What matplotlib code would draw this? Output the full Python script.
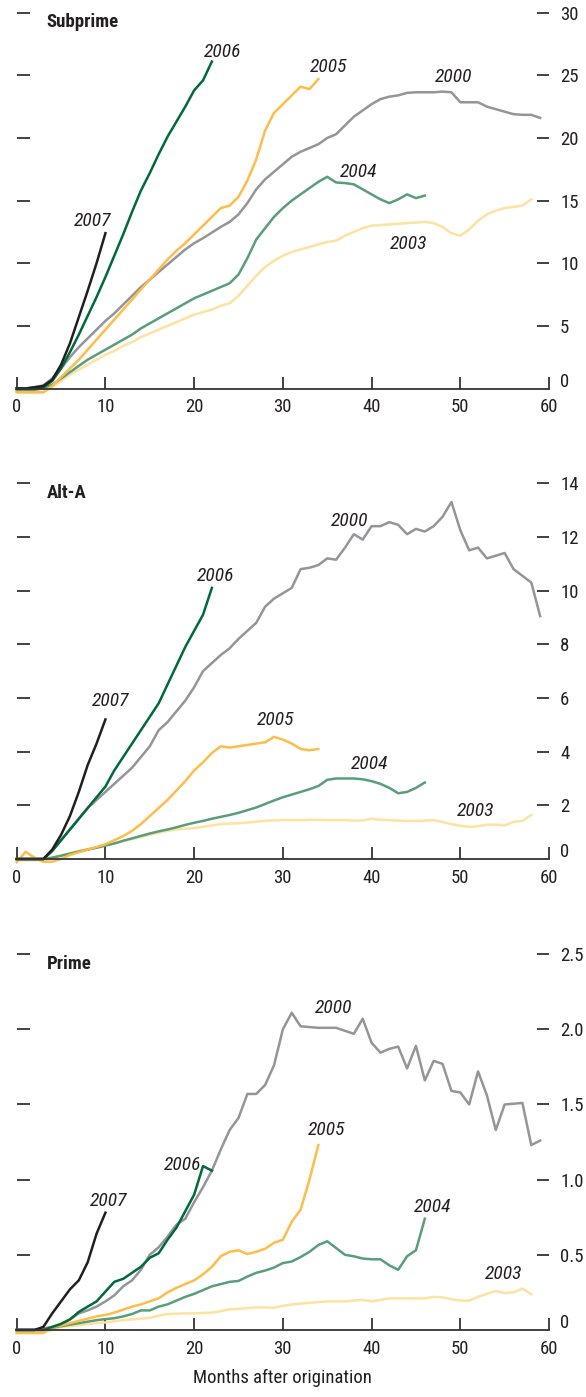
import matplotlib
matplotlib.use('Agg')
import matplotlib.pyplot as plt
from matplotlib import font_manager as fm
import numpy as np

# pick a condensed sans that is installed (chart uses a Univers-condensed look)
names = set(f.name for f in fm.fontManager.ttflist)
candidates = ['Roboto Condensed', 'Archivo Narrow', 'PT Sans Narrow', 'Fira Sans Condensed',
              'IBM Plex Sans Condensed', 'Liberation Sans Narrow', 'Barlow Semi Condensed']
found = [c for c in candidates if c in names]
plt.rcParams['font.family'] = found[:1] + ['DejaVu Sans']

# cumulative delinquency rates by months after origination, per vintage
# --- Subprime ---
sub_2007 = [0, 0, 0.1, 0.2, 0.7, 1.9, 3.6, 5.7, 7.8, 10.0, 12.4]
sub_2006 = [0, 0, 0.05, 0.1, 0.6, 1.6, 2.9, 4.3, 5.8, 7.3, 8.9, 10.6, 12.3, 14.1, 15.8,
            17.2, 18.7, 20.1, 21.3, 22.5, 23.8, 24.6, 26.1]
sub_2005 = [-0.3, -0.3, -0.3, -0.3, 0.2, 0.9, 1.6, 2.3, 3.1, 3.9, 4.7, 5.5, 6.3, 7.1, 7.9,
            8.7, 9.5, 10.3, 11.0, 11.6, 12.3, 13.0, 13.7, 14.4, 14.6, 15.3, 16.6, 18.3, 20.6,
            22.0, 22.7, 23.4, 24.1, 23.9, 24.7]
sub_2004 = [-0.1, -0.1, -0.1, 0, 0.3, 0.8, 1.3, 1.8, 2.3, 2.7, 3.1, 3.5, 3.9, 4.3, 4.8, 5.2,
            5.6, 6.0, 6.4, 6.8, 7.2, 7.5, 7.8, 8.1, 8.4, 9.1, 10.4, 11.9, 12.8, 13.7, 14.4,
            15.0, 15.5, 16.0, 16.5, 16.9, 16.45, 16.4, 16.3, 15.9, 15.5, 15.1, 14.8, 15.1,
            15.5, 15.2, 15.4]
sub_2003 = [-0.3, -0.3, -0.3, -0.3, 0.1, 0.6, 1.1, 1.5, 1.9, 2.3, 2.7, 3.0, 3.4, 3.7, 4.1,
            4.4, 4.7, 5.0, 5.3, 5.6, 5.9, 6.1, 6.3, 6.6, 6.8, 7.4, 8.2, 9.0, 9.7, 10.2, 10.6,
            10.9, 11.1, 11.3, 11.5, 11.7, 11.8, 12.2, 12.5, 12.8, 13.0, 13.05, 13.1, 13.15,
            13.2, 13.25, 13.3, 13.2, 12.9, 12.4, 12.2, 12.7, 13.4, 13.9, 14.2, 14.4, 14.5,
            14.6, 15.1]
sub_2000 = [0, 0, 0.1, 0.25, 0.8, 1.6, 2.5, 3.3, 4.0, 4.7, 5.4, 6.0, 6.7, 7.4, 8.1, 8.7,
            9.3, 9.9, 10.5, 11.1, 11.6, 12.0, 12.45, 12.9, 13.3, 13.9, 14.8, 15.9, 16.7, 17.3,
            17.9, 18.5, 18.9, 19.2, 19.5, 20.0, 20.3, 21.0, 21.7, 22.2, 22.7, 23.1, 23.3,
            23.4, 23.6, 23.65, 23.65, 23.65, 23.7, 23.65, 22.85, 22.85, 22.85, 22.5, 22.3,
            22.1, 21.9, 21.85, 21.85, 21.6]

# --- Alt-A ---
alt_2007 = [0, 0, 0, 0, 0.35, 0.9, 1.6, 2.5, 3.5, 4.3, 5.2]
alt_2006 = [0, 0, 0, 0, 0.3, 0.7, 1.1, 1.5, 1.9, 2.3, 2.7, 3.3, 3.8, 4.3, 4.8, 5.3, 5.8,
            6.5, 7.2, 7.9, 8.5, 9.1, 10.1]
alt_2005 = [-0.12, 0.27, 0.05, -0.1, -0.1, 0.0, 0.15, 0.25, 0.35, 0.45, 0.55, 0.7, 0.85,
            1.05, 1.3, 1.6, 1.9, 2.2, 2.55, 2.9, 3.3, 3.6, 3.95, 4.2, 4.15, 4.2, 4.25, 4.3,
            4.35, 4.55, 4.45, 4.3, 4.1, 4.05, 4.1]
alt_2004 = [0, 0, 0, 0, 0.05, 0.12, 0.2, 0.28, 0.35, 0.42, 0.5, 0.58, 0.68, 0.77, 0.86,
            0.95, 1.03, 1.1, 1.18, 1.27, 1.35, 1.42, 1.5, 1.57, 1.64, 1.72, 1.82, 1.92, 2.05,
            2.18, 2.3, 2.4, 2.5, 2.6, 2.72, 2.95, 3.0, 3.0, 3.0, 2.97, 2.9, 2.8, 2.65, 2.45,
            2.5, 2.65, 2.85]
alt_2003 = [-0.05, -0.05, -0.05, -0.05, 0.05, 0.15, 0.22, 0.3, 0.37, 0.44, 0.5, 0.58, 0.66,
            0.74, 0.82, 0.9, 0.98, 1.05, 1.1, 1.13, 1.15, 1.2, 1.25, 1.3, 1.32, 1.33, 1.36,
            1.39, 1.42, 1.44, 1.45, 1.45, 1.45, 1.46, 1.46, 1.45, 1.45, 1.45, 1.43, 1.44, 1.5,
            1.46, 1.45, 1.43, 1.42, 1.42, 1.43, 1.45, 1.38, 1.3, 1.24, 1.2, 1.22, 1.28, 1.28,
            1.25, 1.38, 1.42, 1.64]
alt_2000 = [0, 0, 0, 0, 0.3, 0.7, 1.1, 1.5, 1.9, 2.2, 2.5, 2.8, 3.1, 3.4, 3.8, 4.2, 4.8,
            5.1, 5.5, 5.9, 6.4, 7.0, 7.3, 7.6, 7.85, 8.2, 8.5, 8.8, 9.4, 9.7, 9.9, 10.1, 10.8,
            10.85, 10.95, 11.2, 11.15, 11.6, 12.1, 11.9, 12.4, 12.4, 12.55, 12.45, 12.1, 12.3,
            12.2, 12.4, 12.75, 13.3, 12.25, 11.5, 11.6, 11.2, 11.3, 11.4, 10.8, 10.55, 10.3,
            9.05]

# --- Prime ---
pri_2007 = [0, 0, 0, 0.02, 0.11, 0.19, 0.27, 0.33, 0.45, 0.64, 0.78]
pri_2006 = [0, 0, 0, 0, 0.02, 0.04, 0.07, 0.12, 0.155, 0.19, 0.255, 0.32, 0.34, 0.38, 0.42,
            0.48, 0.51, 0.6, 0.68, 0.79, 0.9, 1.09, 1.06]
pri_2005 = [-0.02, -0.02, -0.02, -0.02, 0.02, 0.03, 0.045, 0.06, 0.075, 0.09, 0.1, 0.115,
            0.135, 0.155, 0.17, 0.19, 0.21, 0.25, 0.28, 0.305, 0.33, 0.37, 0.42, 0.49, 0.52,
            0.53, 0.505, 0.52, 0.54, 0.58, 0.6, 0.72, 0.8, 1.0, 1.23]
pri_2004 = [0, 0, 0, 0, 0.015, 0.025, 0.035, 0.045, 0.055, 0.065, 0.072, 0.078, 0.09, 0.106,
            0.13, 0.13, 0.155, 0.17, 0.195, 0.22, 0.24, 0.265, 0.29, 0.305, 0.32, 0.326,
            0.355, 0.38, 0.395, 0.415, 0.445, 0.455, 0.485, 0.52, 0.565, 0.59, 0.545, 0.5,
            0.49, 0.475, 0.47, 0.47, 0.43, 0.4, 0.49, 0.53, 0.74]
pri_2003 = [-0.02, -0.02, -0.02, -0.02, 0.0, 0.02, 0.025, 0.03, 0.038, 0.045, 0.05, 0.058,
            0.065, 0.07, 0.075, 0.08, 0.095, 0.106, 0.108, 0.11, 0.11, 0.113, 0.115, 0.125,
            0.137, 0.14, 0.145, 0.15, 0.15, 0.148, 0.16, 0.17, 0.175, 0.18, 0.185, 0.19, 0.19,
            0.19, 0.195, 0.2, 0.19, 0.2, 0.21, 0.21, 0.21, 0.21, 0.21, 0.22, 0.217, 0.205,
            0.195, 0.195, 0.22, 0.24, 0.26, 0.245, 0.25, 0.275, 0.237]
pri_2000 = [0, 0, 0, 0.01, 0.02, 0.04, 0.07, 0.11, 0.13, 0.155, 0.19, 0.23, 0.29, 0.33, 0.4,
            0.5, 0.55, 0.62, 0.70, 0.74, 0.85, 0.95, 1.06, 1.2, 1.33, 1.41, 1.57, 1.57, 1.63,
            1.76, 2.0, 2.11, 2.02, 2.015, 2.01, 2.01, 2.01, 1.99, 1.97, 2.07, 1.91, 1.845,
            1.87, 1.885, 1.74, 1.89, 1.66, 1.79, 1.77, 1.59, 1.58, 1.5, 1.72, 1.56, 1.33,
            1.5, 1.505, 1.51, 1.23, 1.26]

years = ['2003', '2004', '2000', '2005', '2006', '2007']
colors = {'2007': '#231f20', '2006': '#00693e', '2005': '#fdbd48',
          '2000': '#939598', '2004': '#589e7b', '2003': '#fde2a0'}

panels = [
    ('Subprime', {'2003': sub_2003, '2004': sub_2004, '2000': sub_2000,
                  '2005': sub_2005, '2006': sub_2006, '2007': sub_2007},
     [5, 10, 15, 20, 25, 30], ['5', '10', '15', '20', '25', '30'], 30,
     {'2006': (23.2, 26.9), '2005': (35.2, 25.65), '2000': (49.2, 24.9),
      '2004': (38.5, 17.3), '2007': (8.6, 13.4), '2003': (44.2, 11.5)}, 29.25),
    ('Alt-A', {'2003': alt_2003, '2004': alt_2004, '2000': alt_2000,
               '2005': alt_2005, '2006': alt_2006, '2007': alt_2007},
     [2, 4, 6, 8, 10, 12, 14], ['2', '4', '6', '8', '10', '12', '14'], 14,
     {'2000': (37.5, 12.6), '2006': (22.4, 10.56), '2007': (10.6, 5.9),
      '2005': (29.2, 5.18), '2004': (39.8, 3.54), '2003': (51.7, 1.79)}, 13.64),
    ('Prime', {'2003': pri_2003, '2004': pri_2004, '2000': pri_2000,
               '2005': pri_2005, '2006': pri_2006, '2007': pri_2007},
     [0.5, 1.0, 1.5, 2.0, 2.5], ['0.5', '1.0', '1.5', '2.0', '2.5'], 2.5,
     {'2000': (35.7, 2.14), '2005': (34.9, 1.33), '2006': (18.7, 1.1),
      '2007': (10.4, 0.86), '2004': (46.9, 0.82), '2003': (54.9, 0.37)}, 2.435),
]

fig = plt.figure(figsize=(5.86, 13.97), dpi=100)
bottoms = [0.7219, 0.3851, 0.0480]
ink = '#231f20'

for (title, series, yt, ytl, ytop, labels, title_y), b in zip(panels, bottoms):
    ax = fig.add_axes([0.0285, b, 0.9084, 0.2690])
    for yr in years:
        vals = series[yr]
        ax.plot(np.arange(len(vals)), vals, color=colors[yr], lw=1.8, clip_on=False,
                solid_joinstyle='round')
    for yr, (lx, ly) in labels.items():
        ax.text(lx, ly, yr, fontsize=14, style='italic', color=ink,
                ha='center', va='center')
    ax.text(3.4, title_y, title, fontsize=13.5, fontweight='bold', color=ink,
            ha='left', va='center')

    ax.set_xlim(0, 60)
    ax.set_ylim(0, ytop)
    ax.set_xticks(range(0, 61, 10))
    ax.set_yticks(yt)
    ax.set_yticklabels(ytl)
    for s in ['left', 'right', 'top']:
        ax.spines[s].set_visible(False)
    ax.spines['bottom'].set_color('#333333')
    ax.spines['bottom'].set_linewidth(1.3)
    ax.tick_params(axis='x', direction='in', length=8.5, width=1.3, color='#333333',
                   labelsize=13.5, labelcolor=ink, pad=7)
    ax.tick_params(axis='y', direction='in', length=9, width=1.3, color='#333333',
                   left=True, right=True, labelleft=False, labelright=True,
                   labelsize=13.5, labelcolor=ink, pad=8)
    ax.annotate('0', xy=(1, 0), xycoords=('axes fraction', 'data'), xytext=(11, 7),
                textcoords='offset pixels', ha='left', va='center', fontsize=13.5,
                color=ink)
    last_ax = ax

last_ax.set_xlabel('Months after origination', fontsize=13.5, color=ink, labelpad=8)

fig.savefig('out.png', dpi=100)
